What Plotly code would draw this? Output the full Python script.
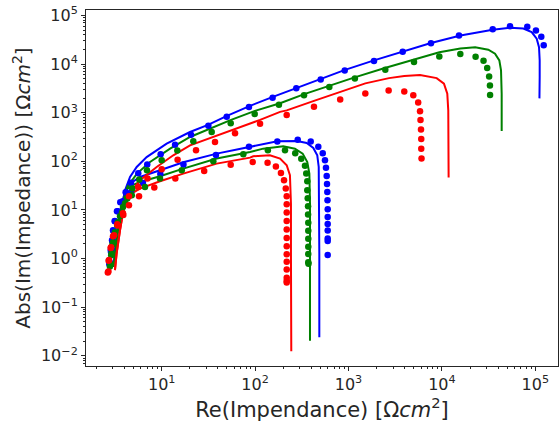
import plotly.graph_objects as go

# ---------------- data ----------------
# dots: measured data
b_hi_re = [2.75, 2.85, 2.94, 3.01, 3.14, 3.32, 3.60, 4.11, 4.69, 5.61, 7.0, 9.75, 13.9, 20.6, 31.6, 49.7, 86, 154, 276, 504, 911, 1875, 3805, 7640, 15240, 35000, 53600, 82050, 101600, 115900, 123000]
b_hi_im = [0.767, 1.49, 2.39, 3.83, 5.94, 9.40, 14.4, 23.1, 36.2, 56.7, 85.5, 139, 220, 353, 541, 828, 1300, 2030, 3160, 4830, 7390, 11500, 17900, 26900, 38700, 52100, 60000, 58300, 49000, 36400, 24400]

b_lo_re = [2.78, 2.87, 2.96, 3.05, 3.16, 3.40, 3.82, 4.69, 6.30, 9.67, 17.1, 38.1, 86, 173, 286, 394, 475, 530, 560, 574, 584, 589, 593, 596, 599, 599, 599, 599, 599, 599, 599]
b_lo_im = [0.844, 1.35, 2.28, 3.65, 5.86, 9.40, 15.1, 23.1, 35.9, 54.8, 85.5, 135, 198, 254, 276, 254, 200, 146, 105, 73.6, 49.9, 34.2, 23.4, 15.8, 10.3, 7.18, 5.16, 3.79, 2.59, 2.31, 1.19]

g_hi_re = [2.79, 2.88, 2.97, 3.10, 3.34, 3.58, 3.85, 4.28, 4.85, 5.75, 6.95, 10.0, 14.7, 21.8, 34.3, 54.8, 99, 180, 334, 623, 1170, 2478, 5025, 9380, 15740, 22950, 27900, 30550, 32050, 32700, 32800]
g_hi_im = [0.69, 1.17, 1.95, 3.07, 4.79, 7.43, 11.5, 17.1, 27.5, 42.1, 65.3, 105, 166, 258, 400, 608, 936, 1460, 2270, 3390, 5060, 7670, 11050, 14300, 16000, 14100, 11700, 8240, 5560, 3640, 2300]

g_lo_re = [2.81, 2.91, 3.01, 3.16, 3.40, 3.76, 4.05, 4.78, 6.62, 9.59, 16.4, 35.7, 74.8, 137, 209, 269, 312, 342, 353, 362, 362, 366, 369, 369, 371, 371, 371, 371, 371, 371, 373]
g_lo_im = [0.77, 1.29, 2.17, 3.48, 5.59, 8.9, 13.7, 20.0, 29.7, 44.2, 65.3, 100, 139, 168, 168, 146, 112.6, 80.8, 55.9, 38.8, 25.4, 17.4, 11.9, 8.05, 5.46, 3.75, 2.57, 1.76, 1.24, 0.844, 0.786]

r_hi_re = [2.65, 2.70, 2.84, 3.01, 3.34, 3.88, 4.46, 5.61, 7.05, 10.0, 14.8, 23.3, 37.2, 61.0, 113, 218, 427, 815, 1514, 2690, 3955, 4940, 5570, 5830, 5900, 5975, 6010, 6010, 6050]
r_hi_im = [0.52, 0.90, 1.64, 2.88, 5.08, 7.89, 19.1, 29.7, 44.2, 68.5, 108, 168, 249, 376, 589, 893, 1330, 1875, 2466, 2845, 2740, 2270, 1610, 1073, 705, 450, 286, 181, 114]

r_lo_re = [2.69, 2.73, 2.87, 3.09, 3.40, 3.85, 4.46, 5.72, 8.33, 14.0, 28.5, 54.8, 94.3, 136, 167, 189, 204, 213, 218, 218, 218, 218, 218, 218, 218, 218, 218, 218, 218, 218, 218]
r_lo_im = [0.54, 0.93, 1.71, 3.0, 4.8, 8.55, 12.5, 19.1, 28.8, 44.3, 63.2, 84.8, 96.3, 93.1, 77.8, 57.5, 40.7, 27.5, 19.1, 13.1, 8.85, 5.94, 3.96, 2.66, 1.80, 1.23, 0.863, 0.597, 0.405, 0.348, 0.323]

# lines: fitted model
bl_hi_re = [3.09, 3.16, 3.35, 3.65, 4.05, 4.58, 5.40, 6.90, 11.3, 20.1, 31.3, 50.0, 88.2, 155, 283, 508, 918, 1875, 3820, 7640, 15800, 35000, 53600, 74450, 91450, 103500, 109600, 111400, 111400, 110700]
bl_hi_im = [0.80, 1.49, 3.83, 9.86, 25.4, 47.6, 76.4, 122, 231, 400, 562, 860, 1380, 2110, 3230, 4940, 7570, 11900, 18150, 27100, 38700, 50600, 55600, 53800, 45200, 33100, 22200, 11900, 5380, 1968]

bl_lo_re = [3.09, 3.16, 3.35, 3.65, 4.05, 4.69, 5.86, 9.59, 17.0, 38.8, 88.2, 173, 281, 357, 420, 463, 480, 483, 487, 487, 487]
bl_lo_im = [0.80, 1.49, 3.83, 9.86, 25.4, 36.0, 47.6, 65.3, 95.4, 144, 197, 258, 261, 238, 188, 133, 76.4, 29.7, 6.15, 1.27, 0.024]

gl_hi_re = [3.04, 3.16, 3.43, 3.82, 4.28, 5.43, 7.50, 12.3, 20.1, 33.7, 55.3, 99.6, 185, 342, 633, 1164, 2450, 5025, 9380, 15740, 22700, 31400, 37050, 41200, 42950, 43650, 43650]
gl_hi_im = [0.676, 1.08, 4.48, 13.5, 29.7, 55.9, 96.8, 182, 316, 476, 711, 1089, 1560, 2430, 3640, 5310, 8310, 12200, 17500, 20900, 22200, 19700, 16300, 11900, 7390, 2450, 419]

gl_lo_re = [3.04, 3.16, 3.43, 3.82, 4.28, 4.90, 5.86, 9.59, 17.0, 38.8, 88.2, 122, 200, 267, 323, 362, 381, 387, 387, 387]
gl_lo_im = [0.676, 1.08, 4.48, 13.5, 27.0, 32.5, 37.6, 49.2, 70.8, 114, 155, 182, 203, 182, 144, 96.8, 55.9, 13.5, 1.27, 0.0204]

rl_hi_re = [3.16, 3.29, 3.58, 3.89, 4.58, 5.86, 8.84, 13.3, 20.1, 37.2, 68.9, 113, 185, 218, 427, 811, 1514, 2714, 3955, 5830, 8790, 10520, 11420, 11700, 11800, 11800]
rl_hi_im = [0.578, 1.27, 3.83, 9.86, 21.7, 40.7, 76.4, 133, 213, 326, 506, 711, 1040, 1115, 1746, 2675, 4000, 5130, 5700, 5970, 5130, 3940, 2450, 1115, 231, 46.2]

rl_lo_re = [3.16, 3.29, 3.58, 3.89, 4.58, 5.86, 9.59, 17.0, 38.8, 88.2, 95.5, 144, 185, 218, 236, 242, 242, 244]
rl_lo_im = [0.578, 1.27, 3.83, 9.86, 21.0, 27.5, 38.8, 55.9, 89.7, 119, 127, 133, 114, 82.8, 51.6, 13.5, 1.27, 0.0124]

x_decades = [10, 100, 1000, 10000, 100000]
y_decades = [0.01, 0.1, 1, 10, 100, 1000, 10000, 100000]
x_labels = ["10<sup>1</sup>", "10<sup>2</sup>", "10<sup>3</sup>", "10<sup>4</sup>", "10<sup>5</sup>"]
y_labels = ["10<sup>−2</sup>", "10<sup>−1</sup>", "10<sup>0</sup>", "10<sup>1</sup>",
            "10<sup>2</sup>", "10<sup>3</sup>", "10<sup>4</sup>", "10<sup>5</sup>"]

BLUE, GREEN, RED = "#0000ff", "#008000", "#ff0000"

fig = go.Figure()

for re_, im_, c in [(bl_hi_re, bl_hi_im, BLUE), (bl_lo_re, bl_lo_im, BLUE),
                    (gl_hi_re, gl_hi_im, GREEN), (gl_lo_re, gl_lo_im, GREEN),
                    (rl_hi_re, rl_hi_im, RED), (rl_lo_re, rl_lo_im, RED)]:
    fig.add_trace(go.Scatter(x=re_, y=im_, mode="lines",
                             line=dict(color=c, width=2), showlegend=False))

for re_, im_, c in [(b_hi_re, b_hi_im, BLUE), (b_lo_re, b_lo_im, BLUE),
                    (g_hi_re, g_hi_im, GREEN), (g_lo_re, g_lo_im, GREEN),
                    (r_hi_re, r_hi_im, RED), (r_lo_re, r_lo_im, RED)]:
    fig.add_trace(go.Scatter(x=re_, y=im_, mode="markers",
                             marker=dict(color=c, size=6.5, line=dict(width=0)),
                             showlegend=False))

def minor_vals(lo, hi):
    out = []
    for e in range(lo, hi + 1):
        for m in range(2, 10):
            out.append(m * 10.0 ** e)
    return out

tickfont = dict(family="DejaVu Sans", size=16, color="#262626")

fig.update_layout(
    width=559, height=424,
    margin=dict(l=86, r=1, t=10, b=58),
    paper_bgcolor="white", plot_bgcolor="white",
    font=dict(family="DejaVu Sans", size=16, color="#262626"),
    xaxis=dict(type="log", range=[0.1895, 5.243], automargin=False,
               tickmode="array", tickvals=x_decades, ticktext=x_labels, tickfont=tickfont,
               ticks="outside", ticklen=4, tickwidth=1, tickcolor="#262626",
               minor=dict(tickmode="array", tickvals=minor_vals(0, 5),
                          ticks="outside", ticklen=2, tickwidth=0.8, tickcolor="#262626",
                          showgrid=False),
               showline=True, linecolor="#262626", linewidth=1, mirror=True,
               showgrid=False, zeroline=False,
               title=dict(text="Re(Impendance) [Ω<i>cm</i><sup>2</sup>]",
                          font=dict(family="DejaVu Sans", size=21, color="#262626"),
                          standoff=4)),
    yaxis=dict(type="log", range=[-2.209, 5.111], automargin=False,
               tickmode="array", tickvals=y_decades, ticktext=y_labels, tickfont=tickfont,
               ticks="outside", ticklen=4, tickwidth=1, tickcolor="#262626",
               minor=dict(tickmode="array", tickvals=minor_vals(-3, 5),
                          ticks="outside", ticklen=2, tickwidth=0.8, tickcolor="#262626",
                          showgrid=False),
               showline=True, linecolor="#262626", linewidth=1, mirror=True,
               showgrid=False, zeroline=False,
               title=dict(text="Abs(Im(Impedance)) [Ω<i>cm</i><sup>2</sup>]",
                          font=dict(family="DejaVu Sans", size=20, color="#262626"),
                          standoff=4)),
)

fig.write_html("out.html", config={"displayModeBar": False},
               post_script="document.body.style.margin='0';document.body.style.overflow='hidden';")
